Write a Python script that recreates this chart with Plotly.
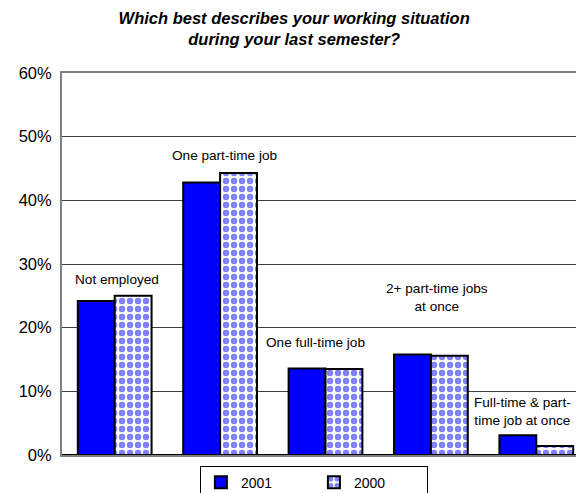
import plotly.graph_objects as go

categories = ["Not employed", "One part-time job", "One full-time job",
              "2+ part-time jobs at once", "Full-time & part-time job at once"]
values_2001 = [24.2, 42.8, 13.6, 15.8, 3.1]
values_2000 = [25.0, 44.3, 13.5, 15.6, 1.4]

# category labels drawn inside the plot (text, value-position, x offset)
label_text = ["Not employed", "One part-time job", "One full-time job",
              "2+ part-time jobs<br>at once", "Full-time & part-<br>time job at once"]
label_y = [27.5, 47.0, 17.6, 24.8, 6.9]
label_dx = [2, 4, -10, 6, -14]

tick_vals = [0, 10, 20, 30, 40, 50, 60]
tick_text = ["0%", "10%", "20%", "30%", "40%", "50%", "60%"]

FONT = "Liberation Sans, Arial, sans-serif"

fig = go.Figure()

fig.add_trace(go.Bar(
    x=categories, y=values_2001, name="2001",
    marker=dict(color="#0000FF", line=dict(color="black", width=2)),
))
fig.add_trace(go.Bar(
    x=categories, y=values_2000, name="2000",
    marker=dict(
        color="white",
        line=dict(color="black", width=2),
        pattern=dict(shape=".", fgcolor="#0000FF", bgcolor="white",
                     size=8, solidity=0.5, fillmode="overlay"),
    ),
))

for cat, txt, yv, dx in zip(categories, label_text, label_y, label_dx):
    fig.add_annotation(x=cat, y=yv, text=txt, showarrow=False, xshift=dx,
                       font=dict(family=FONT, size=13.6, color="black"))

fig.update_layout(
    width=584, height=493,
    margin=dict(l=54, r=1, t=65, b=38),
    paper_bgcolor="white", plot_bgcolor="white",
    barmode="group", bargap=0.3, bargroupgap=0,
    font=dict(family=FONT, color="black"),
    title=dict(
        text="<b><i>Which best describes your working situation<br>during your last semester?</i></b>",
        x=0.49, xanchor="center", y=0.968, yanchor="top",
        font=dict(family=FONT, size=16.5, color="black"),
    ),
    showlegend=True,
    legend=dict(
        orientation="h", x=0.478, xanchor="center", y=-0.028, yanchor="top",
        bordercolor="black", borderwidth=1, bgcolor="white",
        font=dict(family=FONT, size=14, color="black"),
        entrywidth=68, itemwidth=30, traceorder="normal",
    ),
    xaxis=dict(showticklabels=False, showline=True, linecolor="#808080",
               linewidth=2, mirror=True, ticks=""),
    yaxis=dict(range=[0, 60], tickvals=tick_vals, ticktext=tick_text,
               showgrid=True, gridcolor="#404040", gridwidth=1,
               showline=True, linecolor="#808080", linewidth=2, mirror=True,
               zeroline=True, zerolinecolor="black", zerolinewidth=2,
               ticks="", ticklabelstandoff=5,
               tickfont=dict(family=FONT, size=16.5, color="black")),
)

fig.write_html("out.html")
